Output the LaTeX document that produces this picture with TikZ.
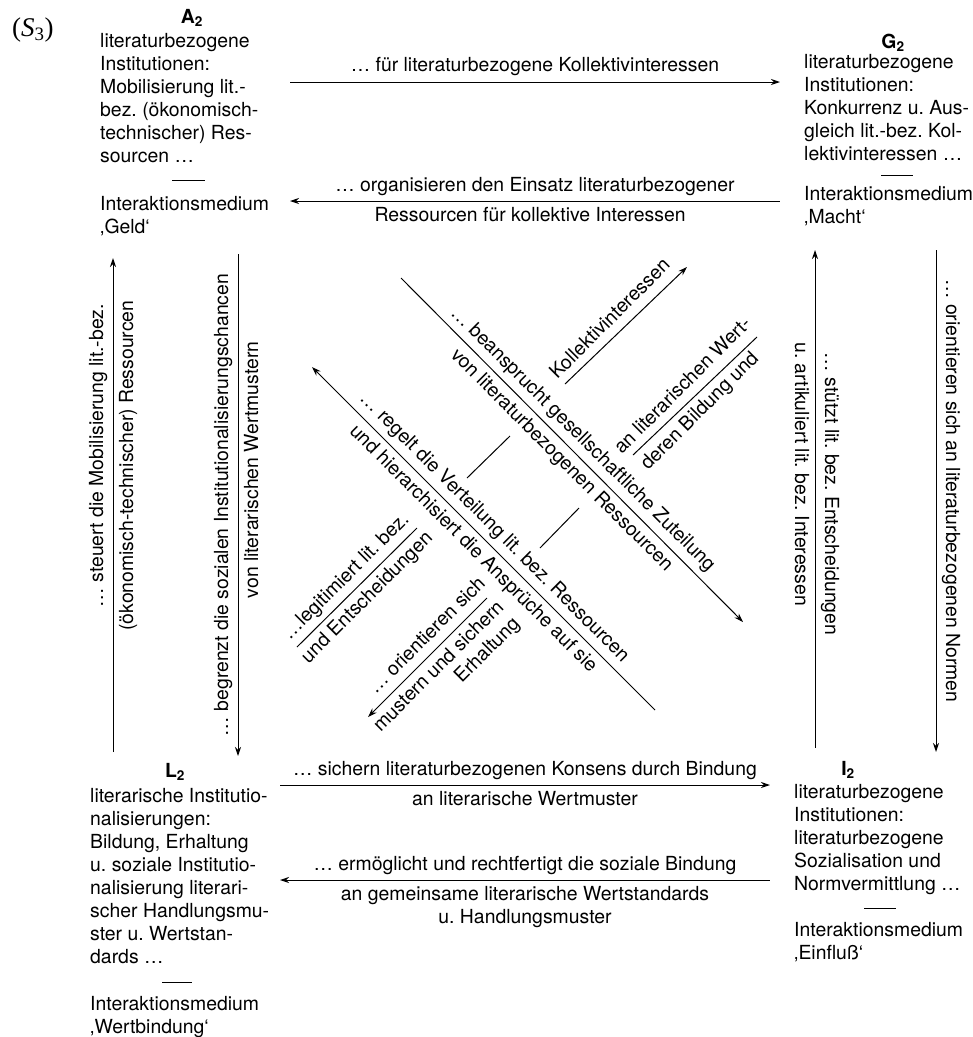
\documentclass[tikz,border=0pt]{standalone}
\usepackage{fontspec}
\setmainfont{TeX Gyre Heros}
\newfontfamily\serifS{Liberation Serif}
\usetikzlibrary{calc,arrows.meta}
\frenchspacing
\begin{document}
\begin{tikzpicture}[x=1pt,y=-1pt,
  every node/.style={inner sep=0pt},
  body/.style={font=\fontsize{19.4}{23}\selectfont, align=left, anchor=north west},
  lab/.style={font=\fontsize{19.4}{23}\selectfont, anchor=base},
  head/.style={font=\fontsize{19.4}{23}\selectfont\bfseries},
  arr/.style={line width=1pt, -{Stealth[length=9pt,width=6pt]}},
  rarr/.style={line width=1pt, {Stealth[length=9pt,width=6pt]}-},
  seg/.style={line width=1pt},
]
\useasboundingbox (0,0) rectangle (973,1037);

% title
\node[font=\serifS\fontsize{27}{30}\selectfont, anchor=west] (S) at (12,30) {(\textit{S}\textsubscript{3})};

% A2 block
\node[head] (A2h) at (192,18) {A\textsubscript{2}};
\node[body] (A2b) at (100,33) {literaturbezogene\\Institutionen:\\Mobilisierung lit.-\\bez. (ökonomisch-\\technischer) Res-\\sourcen \dots};
\draw[seg] (172,180) -- (205,180);
\node[body] (A2m) at (100,196) {Interaktionsmedium\\‚Geld‘};

% G2 block
\node[head] (G2h) at (893,43) {G\textsubscript{2}};
\node[body] (G2b) at (804,54) {literaturbezogene\\Institutionen:\\Konkurrenz u. Aus-\\gleich lit.-bez. Kol-\\lektivinteressen \dots};
\draw[seg] (881,175) -- (913,175);
\node[body] (G2m) at (804,186) {Interaktionsmedium\\‚Macht‘};

% L2 block
\node[head] (L2h) at (175,772) {L\textsubscript{2}};
\node[body] (L2b) at (90,788) {literarische Institutio-\\nalisierungen:\\Bildung, Erhaltung\\u. soziale Institutio-\\nalisierung literari-\\scher Handlungsmu-\\ster u. Wertstan-\\dards \dots};
\draw[seg] (162,982) -- (192,982);
\node[body] (L2m) at (90,996) {Interaktionsmedium\\‚Wertbindung‘};

% I2 block
\node[head] (I2h) at (848,770) {I\textsubscript{2}};
\node[body] (I2b) at (794,784) {literaturbezogene\\Institutionen:\\literaturbezogene\\Sozialisation und\\Normvermittlung \dots};
\draw[seg] (864,908) -- (896,908);
\node[body] (I2m) at (794,922) {Interaktionsmedium\\‚Einfluß‘};

% ---- top arrows
\coordinate (t1a) at (290,82); \coordinate (t1b) at (780,82);
\draw[arr] (t1a) -- (t1b);
\node[lab] (t1l) at ($(t1a)!0.5!(t1b)!11pt!90:(t1b)$) {\dots{} für literaturbezogene Kollektivinteressen};

\coordinate (t2a) at (290,201); \coordinate (t2b) at (780,201);
\draw[rarr] (t2a) -- (t2b);
\node[lab] (t2l) at ($(t2a)!0.5!(t2b)!10pt!90:(t2b)$) {\dots{} organisieren den Einsatz literaturbezogener};
\node[lab] (t2m) at ($(t2a)!0.49!(t2b)!20pt!-90:(t2b)$) {Ressourcen für kollektive Interessen};

% ---- bottom arrows
\coordinate (b1a) at (280,785); \coordinate (b1b) at (770,785);
\draw[arr] (b1a) -- (b1b);
\node[lab] (b1l) at ($(b1a)!0.5!(b1b)!10pt!90:(b1b)$) {\dots{} sichern literaturbezogenen Konsens durch Bindung};
\node[lab] (b1m) at ($(b1a)!0.5!(b1b)!20pt!-90:(b1b)$) {an literarische Wertmuster};

\coordinate (b2a) at (280,880); \coordinate (b2b) at (770,880);
\draw[rarr] (b2a) -- (b2b);
\node[lab] (b2l) at ($(b2a)!0.5!(b2b)!10pt!90:(b2b)$) {\dots{} ermöglicht und rechtfertigt die soziale Bindung};
\node[lab] (b2m) at ($(b2a)!0.5!(b2b)!20pt!-90:(b2b)$) {an gemeinsame literarische Wertstandards};
\node[lab] (b2n) at ($(b2a)!0.5!(b2b)!43pt!-90:(b2b)$) {u. Handlungsmuster};

% ---- left verticals
\coordinate (lua) at (113,752); \coordinate (lub) at (113,258);
\draw[arr] (lua) -- (lub);
\node[lab, rotate=90] (lul) at ($(lua)!0.6!(lub)!10pt!90:(lub)$) {\dots{} steuert die Mobilisierung lit.-bez.};
\node[lab, rotate=90] (lum) at ($(lua)!0.58!(lub)!20pt!-90:(lub)$) {(ökonomisch-technischer) Ressourcen};

\coordinate (lda) at (238,756); \coordinate (ldb) at (238,254);
\draw[rarr] (lda) -- (ldb);
\node[lab, rotate=90] (ldl) at ($(lda)!0.5!(ldb)!10pt!90:(ldb)$) {\dots{} begrenzt die sozialen Institutionalisierungschancen};
\node[lab, rotate=90] (ldm) at ($(lda)!0.57!(ldb)!20pt!-90:(ldb)$) {von literarischen Wertmustern};

% ---- right verticals
\coordinate (rua) at (815,250); \coordinate (rub) at (815,748);
\draw[rarr] (rua) -- (rub);
\node[lab, rotate=-90] (rul) at ($(rua)!0.49!(rub)!10pt!90:(rub)$) {\dots{} stützt lit. bez. Entscheidungen};
\node[lab, rotate=-90] (rum) at ($(rua)!0.45!(rub)!20pt!-90:(rub)$) {u. artikuliert lit. bez. Interessen};

\coordinate (rda) at (936,250); \coordinate (rdb) at (936,752);
\draw[arr] (rda) -- (rdb);
\node[lab, rotate=-90] (rdl) at ($(rda)!0.48!(rdb)!10pt!90:(rdb)$) {\dots{} orientieren sich an literaturbezogenen Normen};

% ---- descending diagonals
\coordinate (d1a) at (401,278); \coordinate (d1b) at (743,622);
\draw[arr] (d1a) -- (d1b);
\node[lab, rotate=-45] (d1l) at ($(d1a)!0.5!(d1b)!10pt!90:(d1b)$) {\dots{} beansprucht gesellschaftliche Zuteilung};
\node[lab, rotate=-45] (d1m) at ($(d1a)!0.5!(d1b)!20pt!-90:(d1b)$) {von literaturbezogenen Ressourcen};

\coordinate (d2a) at (312,367); \coordinate (d2b) at (655,710);
\draw[rarr] (d2a) -- (d2b);
\node[lab, rotate=-45] (d2l) at ($(d2a)!0.5!(d2b)!10pt!90:(d2b)$) {\dots{} regelt die Verteilung lit. bez. Ressourcen};
\node[lab, rotate=-45] (d2m) at ($(d2a)!0.5!(d2b)!20pt!-90:(d2b)$) {und hierarchisiert die Ansprüche auf sie};

% ---- ascending broken arrow A (L2 -> G2)
\coordinate (a1a) at (297,647); \coordinate (a1b) at (417,528);
\draw[seg] (a1a) -- (a1b);
\node[lab, rotate=45] (a1l) at ($(a1a)!0.5!(a1b)!10pt!90:(a1b)$) {\dots{}legitimiert lit. bez.};
\node[lab, rotate=45] (a1m) at ($(a1a)!0.5!(a1b)!20pt!-90:(a1b)$) {und Entscheidungen};
\coordinate (a2a) at (467,478); \coordinate (a2b) at (510,436);
\draw[seg] (a2a) -- (a2b);
\coordinate (a3a) at (565,384); \coordinate (a3b) at (687,267);
\draw[arr] (a3a) -- (a3b);
\node[lab, rotate=45] (a3l) at ($(a3a)!0.46!(a3b)!10pt!90:(a3b)$) {Kollektivinteressen};

% ---- ascending broken arrow B (G2 -> L2)
\coordinate (c1a) at (368,717); \coordinate (c1b) at (487,598);
\draw[rarr] (c1a) -- (c1b);
\node[lab, rotate=45] (c1l) at ($(c1a)!0.59!(c1b)!10pt!90:(c1b)$) {\dots{} orientieren sich};
\node[lab, rotate=45] (c1m) at ($(c1a)!0.51!(c1b)!20pt!-90:(c1b)$) {mustern und sichern};
\node[lab, rotate=45] (c1n) at ($(c1a)!0.78!(c1b)!43pt!-90:(c1b)$) {Erhaltung};
\coordinate (c2a) at (540,548); \coordinate (c2b) at (579,508);
\draw[seg] (c2a) -- (c2b);
\coordinate (c3a) at (633,455); \coordinate (c3b) at (757,337);
\draw[seg] (c3a) -- (c3b);
\node[lab, rotate=45] (c3l) at ($(c3a)!0.49!(c3b)!10pt!90:(c3b)$) {an literarischen Wert-};
\node[lab, rotate=45] (c3m) at ($(c3a)!0.46!(c3b)!20pt!-90:(c3b)$) {deren Bildung und};
\end{tikzpicture}
\end{document}
